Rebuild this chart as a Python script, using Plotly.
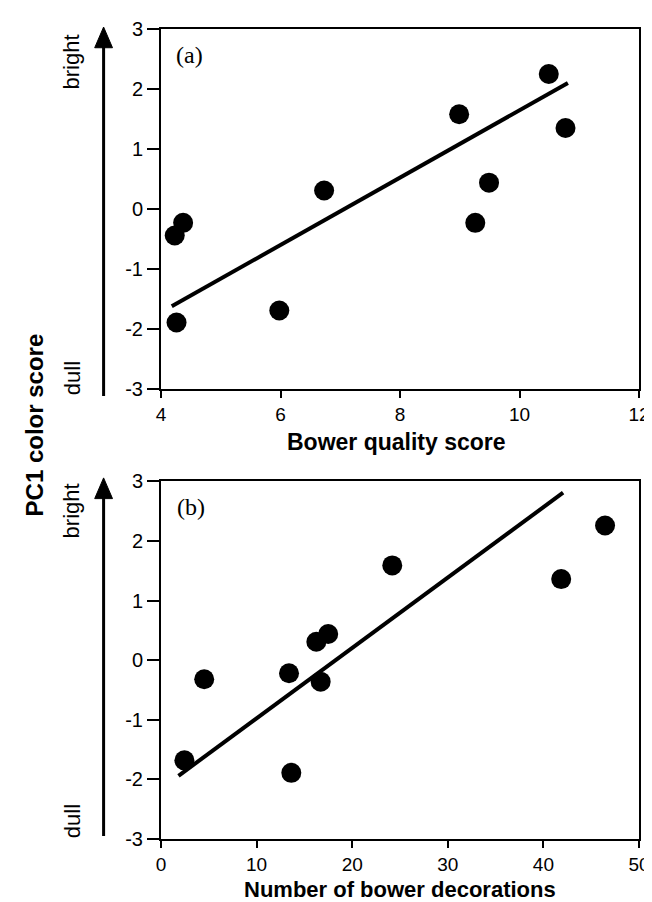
import plotly.graph_objects as go

# Panel (a): bower quality score vs PC1 color score
quality_score = [4.23, 4.37, 4.26, 5.98, 6.73, 8.99, 9.26, 9.49, 10.49, 10.77]
pc1_a = [-0.44, -0.23, -1.89, -1.69, 0.31, 1.58, -0.23, 0.44, 2.25, 1.35]
fit_a_x = [4.18, 10.81]
fit_a_y = [-1.62, 2.10]

# Panel (b): number of bower decorations vs PC1 color score
decorations = [2.45, 4.52, 13.39, 13.63, 16.25, 17.49, 16.70, 24.19, 41.86, 46.45]
pc1_b = [-1.68, -0.32, -0.22, -1.89, 0.31, 0.44, -0.36, 1.59, 1.36, 2.26]
fit_b_x = [1.83, 42.06]
fit_b_y = [-1.94, 2.81]

x_ticks_a = [4, 6, 8, 10, 12]
x_ticks_b = [0, 10, 20, 30, 40, 50]
y_ticks = [-3, -2, -1, 0, 1, 2, 3]
y_tick_text = ["-3", "-2", "-1", "0", "1", "2", "3"]

W, H = 652, 902
ML, MR, MT, MB = 153, 16, 10, 71
PW = W - ML - MR
PH = H - MT - MB


def px(x):
    return (x - ML) / PW


def py(y):
    return (H - MB - y) / PH


fig = go.Figure()
fig.add_trace(go.Scatter(x=quality_score, y=pc1_a, mode="markers",
                         marker=dict(size=20, color="black"), xaxis="x", yaxis="y", showlegend=False))
fig.add_trace(go.Scatter(x=fit_a_x, y=fit_a_y, mode="lines",
                         line=dict(color="black", width=4), xaxis="x", yaxis="y", showlegend=False))
fig.add_trace(go.Scatter(x=decorations, y=pc1_b, mode="markers",
                         marker=dict(size=20, color="black"), xaxis="x2", yaxis="y2", showlegend=False))
fig.add_trace(go.Scatter(x=fit_b_x, y=fit_b_y, mode="lines",
                         line=dict(color="black", width=4), xaxis="x2", yaxis="y2", showlegend=False))

axis_common = dict(showgrid=False, zeroline=False, showline=True, linecolor="black", linewidth=2,
                   mirror=True, ticks="outside", tickcolor="black", tickwidth=2)
yfont = dict(family="Liberation Sans, Arial", size=20, color="black")
xfont = dict(family="Liberation Sans, Arial", size=19, color="black")

top_dom = [py(375), 1.0]
bot_dom = [0.0, py(468.5)]

fig.update_layout(
    width=W, height=H,
    margin=dict(l=ML, r=MR, t=MT, b=MB),
    paper_bgcolor="white", plot_bgcolor="white",
    xaxis=dict(domain=[0, 1], range=[4, 12], tickvals=x_ticks_a, ticklen=7, tickfont=xfont,
               anchor="y", **axis_common),
    yaxis=dict(domain=top_dom, range=[-3, 3], tickvals=y_ticks, ticktext=y_tick_text,
               ticklen=12, tickfont=yfont, anchor="x", **axis_common),
    xaxis2=dict(domain=[0, 1], range=[0, 50], tickvals=x_ticks_b, ticklen=7, tickfont=xfont,
                anchor="y2", **axis_common),
    yaxis2=dict(domain=bot_dom, range=[-3, 3], tickvals=y_ticks, ticktext=y_tick_text,
                ticklen=12, tickfont=yfont, anchor="x2", **axis_common),
)

sans = "Liberation Sans, Arial"
serif = "Liberation Serif, Times New Roman"
annos = [
    dict(text="<b>Bower quality score</b>", x=px(391), y=py(429), font=dict(family=sans, size=23)),
    dict(text="<b>Number of bower decorations</b>", x=px(394.5), y=py(882), font=dict(family=sans, size=22)),
    dict(text="<b>PC1 color score</b>", x=px(25), y=py(411.5), textangle=-90, font=dict(family=sans, size=24)),
    dict(text="bright", x=px(63), y=py(43), textangle=-90, font=dict(family=sans, size=22)),
    dict(text="dull", x=px(63), y=py(364), textangle=-90, font=dict(family=sans, size=22)),
    dict(text="bright", x=px(63), y=py(498), textangle=-90, font=dict(family=sans, size=22)),
    dict(text="dull", x=px(63), y=py(813), textangle=-90, font=dict(family=sans, size=22)),
    dict(text="(a)", x=px(182), y=py(36), font=dict(family=serif, size=24)),
    dict(text="(b)", x=px(183), y=py(494), font=dict(family=serif, size=24)),
]
for a in annos:
    a.update(xref="paper", yref="paper", showarrow=False, xanchor="center", yanchor="middle")
    a["font"]["color"] = "black"
fig.update_layout(annotations=annos)

shapes = []
for (y0, ytip) in [(382, 8), (828, 465)]:
    shapes.append(dict(type="line", xref="paper", yref="paper", x0=px(95), x1=px(95),
                       y0=py(y0), y1=py(ytip + 10), line=dict(color="black", width=3)))
    path = "M {} {} L {} {} L {} {} Z".format(px(95), py(ytip), px(86), py(ytip + 21), px(104), py(ytip + 21))
    shapes.append(dict(type="path", xref="paper", yref="paper", path=path,
                       fillcolor="black", line=dict(color="black", width=1)))
fig.update_layout(shapes=shapes)

fig.write_html("out.html")
